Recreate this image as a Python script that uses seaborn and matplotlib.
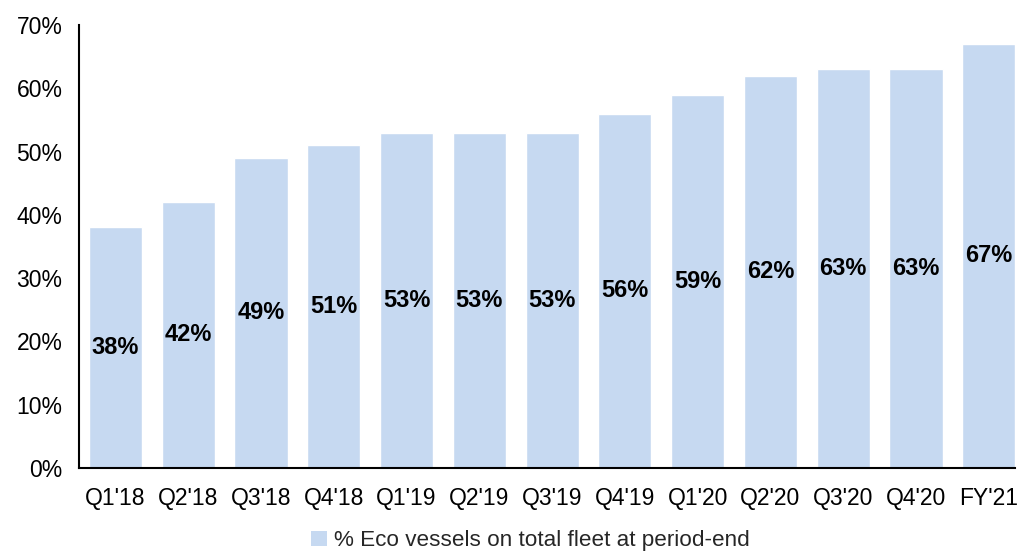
import matplotlib
matplotlib.use("Agg")
import matplotlib.pyplot as plt
import seaborn as sns
import pandas as pd
from matplotlib.ticker import PercentFormatter
from matplotlib.patches import Patch

categories = ["Q1'18", "Q2'18", "Q3'18", "Q4'18", "Q1'19", "Q2'19", "Q3'19",
              "Q4'19", "Q1'20", "Q2'20", "Q3'20", "Q4'20", "FY'21"]
values = [38, 42, 49, 51, 53, 53, 53, 56, 59, 62, 63, 63, 67]
series_name = "% Eco vessels on total fleet at period-end"
bar_color = "#C6D9F1"

sns.set_theme(style="white")
plt.rcParams['font.family'] = ['Liberation Sans', 'DejaVu Sans']

df = pd.DataFrame({"cat": categories, "val": values})
fig = plt.figure(figsize=(10.2, 5.55), dpi=100)
ax = fig.add_axes([0.0775, 0.157, 0.918, 0.798])
sns.barplot(data=df, x="cat", y="val", color=bar_color, saturation=1, width=0.73, ax=ax)

for p, v in zip(ax.patches, values):
    ax.text(p.get_x() + p.get_width() / 2, p.get_height() / 2, f"{v}%",
            ha="center", va="center", fontsize=17, fontweight="bold", color="black")

ax.set_ylim(0, 70)
ax.set_yticks(range(0, 71, 10))
ax.yaxis.set_major_formatter(PercentFormatter(decimals=0))
ax.set_xlim(-0.5, len(categories) - 0.635)
ax.set_xlabel("")
ax.set_ylabel("")
ax.tick_params(axis="both", length=0, labelsize=16.5, colors="black")
ax.tick_params(axis="x", pad=14)
ax.tick_params(axis="y", pad=12)
for s in ["top", "right"]:
    ax.spines[s].set_visible(False)
for s in ["left", "bottom"]:
    ax.spines[s].set_color("black")
    ax.spines[s].set_linewidth(1.5)

handle = Patch(facecolor=bar_color, edgecolor="none", label=series_name)
fig.legend(handles=[handle], loc="lower center", bbox_to_anchor=(0.52, -0.03), frameon=False,
           fontsize=16.2, handlelength=0.7, handleheight=0.7, handletextpad=0.3)

fig.savefig("out.png", dpi=100)
